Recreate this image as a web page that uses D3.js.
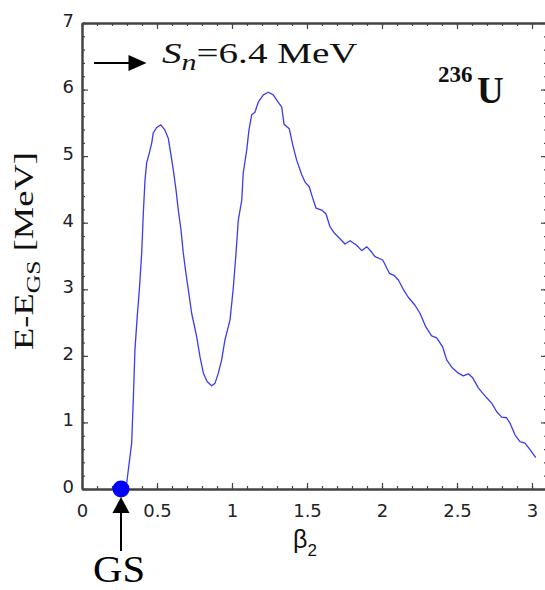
<!DOCTYPE html>
<html>
<head>
<meta charset="utf-8">
<script src="https://cdn.jsdelivr.net/npm/d3@7"></script>
<style>
  body { margin: 0; background: #fff; }
  svg { display: block; }
</style>
</head>
<body>
<svg id="chart" width="545" height="590"></svg>
<script>
// Potential energy along the fission path of 236U: deformation beta2 vs E - E_GS (MeV)
const beta = [
  0.28, 0.298, 0.331, 0.342, 0.353, 0.369, 0.382, 0.398, 0.409, 0.420, 0.431,
  0.449, 0.465, 0.475, 0.498, 0.525, 0.553, 0.575, 0.591, 0.609, 0.627,
  0.642, 0.660, 0.675, 0.693, 0.709, 0.731, 0.765, 0.787, 0.809, 0.835,
  0.865, 0.887, 0.909, 0.931, 0.953, 0.987, 1.009, 1.027, 1.042, 1.065,
  1.075, 1.098, 1.113, 1.131, 1.153, 1.175, 1.209, 1.242, 1.275, 1.298,
  1.331, 1.347, 1.382, 1.405, 1.431, 1.465, 1.487, 1.515, 1.542, 1.560,
  1.598, 1.627, 1.653, 1.680, 1.720, 1.753, 1.787, 1.827, 1.865, 1.898,
  1.931, 1.953, 2.005, 2.049, 2.080, 2.109, 2.142, 2.175, 2.220, 2.253,
  2.293, 2.331, 2.365, 2.405, 2.431, 2.465, 2.509, 2.542, 2.575, 2.605,
  2.642, 2.698, 2.731, 2.765, 2.798, 2.831, 2.853, 2.887, 2.920, 2.953,
  2.987, 3.025
];
const energy = [
  0.00, 0.09, 0.69, 1.34, 2.09, 2.62, 2.98, 3.55, 4.15, 4.64, 4.90,
  5.05, 5.20, 5.35, 5.43, 5.47, 5.39, 5.27, 5.05, 4.79, 4.49,
  4.19, 3.89, 3.55, 3.24, 2.99, 2.64, 2.28, 1.98, 1.74, 1.61,
  1.55, 1.59, 1.74, 1.94, 2.24, 2.54, 3.03, 3.55, 4.04, 4.34,
  4.75, 5.09, 5.39, 5.62, 5.66, 5.81, 5.92, 5.96, 5.92, 5.84,
  5.74, 5.48, 5.41, 5.17, 4.94, 4.72, 4.61, 4.54, 4.34, 4.22,
  4.19, 4.13, 3.94, 3.85, 3.76, 3.68, 3.73, 3.67, 3.58, 3.64,
  3.56, 3.49, 3.44, 3.24, 3.21, 3.14, 3.00, 2.88, 2.76, 2.64,
  2.43, 2.30, 2.27, 2.13, 1.94, 1.83, 1.74, 1.70, 1.73, 1.67,
  1.52, 1.37, 1.29, 1.16, 1.08, 1.07, 0.99, 0.81, 0.71, 0.69,
  0.59, 0.47
];
const xTicks = [0, 0.5, 1, 1.5, 2, 2.5, 3];
const yTicks = [0, 1, 2, 3, 4, 5, 6, 7];
const groundState = { beta: 0.26, energy: 0 };
const separationEnergy = 6.4;          // S_n in MeV
const snArrowBeta = [0.08, 0.43];      // horizontal extent of the S_n marker

const svg = d3.select("#chart");
const margin = { left: 82, right: 547, top: 23, bottom: 489 };

const x = d3.scaleLinear().domain([0, 3.1]).range([margin.left, margin.right]);
const y = d3.scaleLinear().domain([0, 7]).range([margin.bottom, margin.top]);

const axisColor = "#444";
const labelColor = "#222";
const tickFont = "DejaVu Sans, Verdana, sans-serif";
const serif = "Liberation Serif, Times New Roman, serif";

const xMinor = d3.range(0, 31).map(i => i / 10);
const yMinor = d3.range(0, 36).map(i => i / 5);

function styleAxis(g) {
  g.select(".domain").attr("stroke", axisColor).attr("stroke-width", 2);
  g.selectAll(".tick line").attr("stroke", axisColor).attr("stroke-width", 1.2);
  g.selectAll(".tick text")
    .attr("fill", labelColor)
    .attr("font-family", tickFont)
    .attr("font-size", 18);
}

// bottom axis
svg.append("g").attr("transform", `translate(0,${margin.bottom})`)
  .call(d3.axisBottom(x).tickValues(xMinor).tickSize(-3).tickSizeOuter(0).tickFormat(""))
  .call(styleAxis);
svg.append("g").attr("transform", `translate(0,${margin.bottom})`)
  .call(d3.axisBottom(x).tickValues(xTicks).tickSize(-6).tickSizeOuter(0)
    .tickPadding(15).tickFormat(d => String(d)))
  .call(styleAxis);

// top axis
svg.append("g").attr("transform", `translate(0,${margin.top})`)
  .call(d3.axisTop(x).tickValues(xMinor).tickSize(-3).tickSizeOuter(0).tickFormat(""))
  .call(styleAxis);
svg.append("g").attr("transform", `translate(0,${margin.top})`)
  .call(d3.axisTop(x).tickValues(xTicks).tickSize(-6).tickSizeOuter(0).tickFormat(""))
  .call(styleAxis);

// left axis
svg.append("g").attr("transform", `translate(${margin.left},0)`)
  .call(d3.axisLeft(y).tickValues(yMinor).tickSize(-3).tickSizeOuter(0).tickFormat(""))
  .call(styleAxis);
const yAxisG = svg.append("g").attr("transform", `translate(${margin.left},0)`)
  .call(d3.axisLeft(y).tickValues(yTicks).tickSize(-6).tickSizeOuter(0)
    .tickPadding(8).tickFormat(d => String(d)))
  .call(styleAxis);
yAxisG.selectAll(".tick text").attr("dy", "0.19em");

// right axis
svg.append("g").attr("transform", `translate(${margin.right},0)`)
  .call(d3.axisRight(y).tickValues(yMinor).tickSize(-3).tickSizeOuter(0).tickFormat(""))
  .call(styleAxis);
svg.append("g").attr("transform", `translate(${margin.right},0)`)
  .call(d3.axisRight(y).tickValues(yTicks).tickSize(-6).tickSizeOuter(0).tickFormat(""))
  .call(styleAxis);

// energy curve
const points = beta.map((b, i) => ({ b, e: energy[i] }));
svg.append("path")
  .datum(points)
  .attr("fill", "none")
  .attr("stroke", "#3b3bf5")
  .attr("stroke-width", 1.3)
  .attr("stroke-linejoin", "round")
  .attr("d", d3.line().x(d => x(d.b)).y(d => y(d.e)));

// ground state marker
const gx = x(groundState.beta), gy = y(groundState.energy);
svg.append("circle")
  .attr("cx", gx).attr("cy", gy).attr("r", 8.5)
  .attr("fill", "#0000ff");

// arrow pointing up to the ground state
const gsTip = gy + 8;
svg.append("line")
  .attr("x1", gx).attr("x2", gx)
  .attr("y1", gsTip + 12).attr("y2", gsTip + 54)
  .attr("stroke", "#000").attr("stroke-width", 2);
svg.append("path")
  .attr("d", `M${gx},${gsTip} L${gx - 8.5},${gsTip + 16} L${gx + 8.5},${gsTip + 16} Z`)
  .attr("fill", "#000");

// neutron separation energy arrow
const sy = y(separationEnergy);
const sx0 = x(snArrowBeta[0]), sx1 = x(snArrowBeta[1]);
svg.append("line")
  .attr("x1", sx0).attr("x2", sx1 - 16)
  .attr("y1", sy).attr("y2", sy)
  .attr("stroke", "#000").attr("stroke-width", 2);
svg.append("path")
  .attr("d", `M${sx1},${sy} L${sx1 - 18},${sy - 8} L${sx1 - 18},${sy + 8} Z`)
  .attr("fill", "#000");

// S_n label, widened to the span it occupies
const snG = svg.append("g");
const snText = snG.append("text")
  .attr("font-family", serif).attr("font-size", 30).attr("fill", "#111");
snText.append("tspan").attr("font-style", "italic").text("S");
snText.append("tspan").attr("font-style", "italic").attr("font-size", 23).attr("dy", 7).text("n");
snText.append("tspan").attr("dy", -7).text("=6.4 MeV");
{
  const bb = snText.node().getBBox();
  const s = 196 / bb.width;
  snText.attr("x", -bb.x);
  snG.attr("transform", `translate(162,${sy + 0.5}) scale(${s},1)`);
}

// nucleus label
svg.append("text")
  .attr("x", 438).attr("y", 82)
  .attr("font-family", serif).attr("font-size", 23).attr("font-weight", "bold")
  .attr("fill", "#111").text("236");
svg.append("text")
  .attr("x", 477).attr("y", 103)
  .attr("font-family", serif).attr("font-size", 37).attr("font-weight", "bold")
  .attr("fill", "#111").text("U");

// GS label
const gsG = svg.append("g");
const gsText = gsG.append("text")
  .attr("font-family", serif).attr("font-size", 38).attr("fill", "#000")
  .attr("text-anchor", "middle").text("GS");
{
  const w = gsText.node().getBBox().width;
  const s = w > 0 ? 52 / w : 1;
  gsG.attr("transform", `translate(119,582) scale(${s},1)`);
}

// y-axis title
const ylG = svg.append("g");
const ylText = ylG.append("text")
  .attr("font-family", serif).attr("font-size", 27).attr("fill", "#111");
ylText.append("tspan").text("E-E");
ylText.append("tspan").attr("font-size", 19).attr("dy", 7).text("GS");
ylText.append("tspan").attr("dy", -7).text(" [MeV]");
{
  const bb = ylText.node().getBBox();
  const s = 198 / bb.width;
  ylText.attr("x", -bb.x);
  ylG.attr("transform", `translate(33,350) rotate(-90) scale(${s},1)`);
}

// x-axis title
const xl = svg.append("text")
  .attr("x", 293).attr("y", 548)
  .attr("font-family", "Liberation Sans, Arial, sans-serif")
  .attr("font-size", 25).attr("fill", "#111");
xl.append("tspan").text("β");
xl.append("tspan").attr("font-size", 17).attr("dy", 8).text("2");
</script>
</body>
</html>
